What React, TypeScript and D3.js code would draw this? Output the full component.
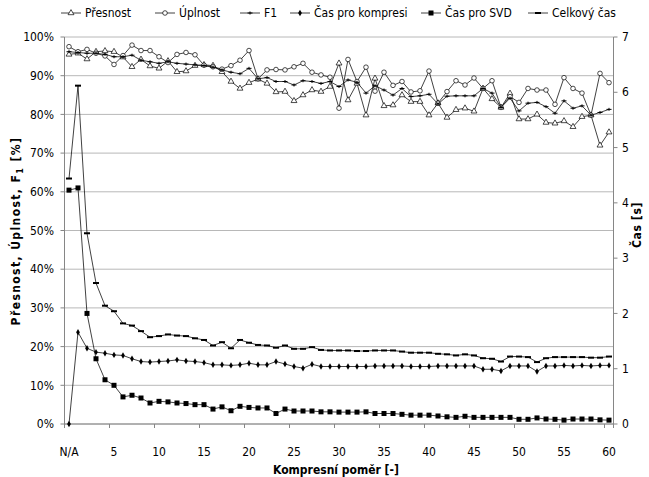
import React from 'react';
import * as d3 from 'd3';

// kategorie osy X: N/A a pak kompresní poměr 1..60
const kategorie = ['N/A', ...d3.range(1, 61).map(String)];
const popiskyX = ['N/A', '5', '10', '15', '20', '25', '30', '35', '40', '45', '50', '55', '60'];
const procentaTicks = [0, 10, 20, 30, 40, 50, 60, 70, 80, 90, 100];
const casTicks = [0, 1, 2, 3, 4, 5, 6, 7];

// levá osa [%]
const presnost = [
  95.5, 95.8, 94.3, 96.2, 96.4, 96.2, 94.8, 92.3, 94.2, 92.5, 91.9, 93.8, 91.0, 91.2, 92.6, 92.8,
  92.6, 91.0, 88.5, 86.7, 88.2, 89.1, 88.0, 85.8, 85.9, 83.5, 85.0, 86.3, 85.9, 87.2, 93.2, 83.7,
  88.0, 79.8, 89.3, 82.2, 82.4, 85.0, 83.3, 83.3, 79.8, 82.9, 79.2, 81.2, 81.6, 80.8, 86.7, 84.0,
  81.8, 85.4, 78.8, 78.8, 80.0, 77.9, 77.7, 78.3, 76.8, 79.4, 79.8, 72.0, 75.4,
];
const uplnost = [
  97.5, 96.2, 96.8, 95.8, 95.1, 92.9, 95.2, 97.9, 96.5, 96.5, 94.9, 93.4, 95.5, 96.0, 95.4, 92.7,
  92.3, 91.7, 92.6, 94.0, 96.5, 89.2, 91.5, 91.6, 91.5, 92.3, 93.2, 90.9, 90.2, 89.6, 81.6, 94.2,
  88.5, 92.2, 86.0, 90.9, 87.5, 88.5, 85.8, 86.1, 91.2, 82.9, 85.9, 88.7, 87.6, 89.4, 86.7, 88.7,
  81.8, 84.6, 83.1, 86.7, 86.3, 86.3, 82.6, 89.5, 86.7, 85.5, 79.8, 90.6, 88.2,
];
const f1 = [
  96.2, 96.0, 95.8, 95.8, 95.5, 94.9, 94.9, 95.3, 94.0, 93.6, 93.2, 93.6, 93.2, 93.0, 92.8, 92.6,
  92.2, 91.5, 90.9, 90.5, 91.9, 89.2, 89.5, 88.5, 88.5, 87.6, 88.7, 88.5, 88.0, 88.5, 87.2, 88.9,
  88.3, 85.5, 87.4, 86.3, 85.0, 86.7, 84.6, 84.8, 85.2, 82.7, 84.7, 84.8, 84.8, 84.8, 86.7, 85.5,
  81.8, 84.2, 80.9, 82.9, 83.1, 82.0, 80.3, 83.5, 81.6, 82.2, 79.8, 80.5, 81.3,
];

// pravá osa [s]
const casKomprese = [
  0, 1.66, 1.37, 1.3, 1.28, 1.25, 1.24, 1.18, 1.13, 1.12, 1.13, 1.14, 1.16, 1.14, 1.13, 1.11,
  1.07, 1.07, 1.06, 1.07, 1.1, 1.07, 1.07, 1.13, 1.085, 1.04, 1.01, 1.08, 1.04, 1.04, 1.04, 1.04,
  1.04, 1.04, 1.05, 1.05, 1.05, 1.05, 1.04, 1.04, 1.04, 1.05, 1.05, 1.05, 1.05, 1.05, 0.99, 0.99,
  0.96, 1.05, 1.05, 1.05, 0.95, 1.05, 1.05, 1.06, 1.05, 1.06, 1.05, 1.06, 1.06,
];
const casSvd = [
  4.23, 4.27, 2.0, 1.18, 0.8, 0.7, 0.49, 0.52, 0.47, 0.38, 0.41, 0.4, 0.38, 0.37, 0.35, 0.35,
  0.27, 0.31, 0.24, 0.32, 0.3, 0.29, 0.29, 0.19, 0.27, 0.235, 0.235, 0.235, 0.22, 0.22, 0.215, 0.215,
  0.215, 0.22, 0.19, 0.19, 0.19, 0.175, 0.16, 0.16, 0.16, 0.145, 0.13, 0.12, 0.14, 0.12, 0.12, 0.12,
  0.12, 0.12, 0.085, 0.085, 0.11, 0.09, 0.085, 0.07, 0.09, 0.09, 0.09, 0.075, 0.07,
];
const casCelkovy = [
  4.44, 6.12, 3.45, 2.55, 2.14, 2.04, 1.82, 1.78, 1.68, 1.57, 1.59, 1.62, 1.6, 1.59, 1.55, 1.52,
  1.42, 1.48, 1.37, 1.52, 1.47, 1.43, 1.42, 1.38, 1.42, 1.36, 1.36, 1.39, 1.34, 1.33, 1.33, 1.33,
  1.32, 1.32, 1.33, 1.33, 1.33, 1.31, 1.29, 1.29, 1.29, 1.27, 1.26, 1.24, 1.26, 1.24, 1.19, 1.18,
  1.13, 1.22, 1.22, 1.21, 1.12, 1.19, 1.21, 1.21, 1.21, 1.21, 1.2, 1.2, 1.22,
];

const FONT = "'Liberation Sans Narrow', 'DejaVu Sans Condensed', 'Liberation Sans', sans-serif";
const m = { left: 64.5, right: 613.5, top: 37, bottom: 424 };

type Znacka = 'tri' | 'kruh' | 'plus' | 'kosoctverec' | 'ctverec' | 'carka';

const Marker = ({ typ, x, y }: { typ: Znacka; x: number; y: number }) => {
  if (typ === 'tri')
    return <path d={d3.symbol(d3.symbolTriangle, 15)()!} transform={`translate(${x},${y})`} fill="#fff" stroke="#000" strokeWidth={0.7} />;
  if (typ === 'kruh') return <circle cx={x} cy={y} r={2.3} fill="#fff" stroke="#000" strokeWidth={0.7} />;
  if (typ === 'plus')
    return <path d={`M${x - 2.5},${y}H${x + 2.5}M${x},${y - 1.5}V${y + 1.5}`} stroke="#000" strokeWidth={1} />;
  if (typ === 'kosoctverec')
    return <path d={d3.symbol(d3.symbolDiamond, 12)()!} transform={`translate(${x},${y})`} fill="#000" />;
  if (typ === 'ctverec') return <rect x={x - 2.5} y={y - 2.5} width={5} height={5} fill="#000" />;
  return <rect x={x - 3} y={y - 1} width={6} height={2} fill="#000" />;
};

export default function App() {
  const x = d3.scaleBand().domain(kategorie).range([m.left, m.right]);
  const cx = (i: number) => x(kategorie[i])! + x.bandwidth() / 2;
  const yL = d3.scaleLinear().domain([0, 100]).range([m.bottom, m.top]);
  const yR = d3.scaleLinear().domain([0, 7]).range([m.bottom, m.top]);

  const serie: { nazev: string; data: number[]; y: d3.ScaleLinear<number, number>; znacka: Znacka }[] = [
    { nazev: 'Přesnost', data: presnost, y: yL, znacka: 'tri' },
    { nazev: 'Úplnost', data: uplnost, y: yL, znacka: 'kruh' },
    { nazev: 'F1', data: f1, y: yL, znacka: 'plus' },
    { nazev: 'Čas pro kompresi', data: casKomprese, y: yR, znacka: 'kosoctverec' },
    { nazev: 'Čas pro SVD', data: casSvd, y: yR, znacka: 'ctverec' },
    { nazev: 'Celkový čas', data: casCelkovy, y: yR, znacka: 'carka' },
  ];

  // legenda - x začátku čáry
  const legendaX = [61, 155, 240, 290, 421, 528];

  const tickyX = kategorie.map((_, i) => i).filter((i) => i % 5 === 0).map((i) => x(kategorie[i])!);
  tickyX.push(m.right);

  return (
    <svg width={649} height={477} style={{ position: 'absolute', left: 0, top: 0, background: '#fff' }} fontFamily={FONT}>
      <rect width={649} height={477} fill="#fff" />
      {/* mřížka */}
      {procentaTicks.map((t) => (
        <line key={t} x1={m.left} x2={m.right} y1={yL(t)} y2={yL(t)} stroke="#b8b8b8" strokeWidth={1} />
      ))}
      {/* osy */}
      <line x1={m.left} x2={m.left} y1={m.top} y2={m.bottom} stroke="#868686" />
      <line x1={m.right} x2={m.right} y1={m.top} y2={m.bottom} stroke="#868686" />
      <line x1={m.left} x2={m.right} y1={m.bottom} y2={m.bottom} stroke="#868686" />
      {procentaTicks.map((t) => (
        <g key={t}>
          <line x1={m.left - 4} x2={m.left} y1={yL(t)} y2={yL(t)} stroke="#868686" />
          <text x={54} y={yL(t)} dy="0.35em" textAnchor="end" fontSize={12}>{t}%</text>
        </g>
      ))}
      {casTicks.map((t) => (
        <g key={t}>
          <line x1={m.right} x2={m.right + 4} y1={yR(t)} y2={yR(t)} stroke="#868686" />
          <text x={622} y={yR(t)} dy="0.35em" fontSize={12}>{t}</text>
        </g>
      ))}
      {tickyX.map((tx, i) => (
        <line key={i} x1={tx} x2={tx} y1={m.bottom} y2={m.bottom + 4} stroke="#868686" />
      ))}
      {popiskyX.map((p) => (
        <text key={p} x={cx(kategorie.indexOf(p))} y={452} dy="0.35em" textAnchor="middle" fontSize={12}>{p}</text>
      ))}
      {/* titulky os */}
      <text x={336} y={470} dy="0.35em" textAnchor="middle" fontSize={12} fontWeight="bold">Kompresní poměr [-]</text>
      <text transform="translate(16,231) rotate(-90)" textAnchor="middle" dy="0.35em" fontSize={12} fontWeight="bold" letterSpacing={1.4}>
        Přesnost, Úplnost, F<tspan fontSize={9} dy="3">1</tspan><tspan dy="-3"> [%]</tspan>
      </text>
      <text transform="translate(637,225) rotate(-90)" textAnchor="middle" dy="0.35em" fontSize={12} fontWeight="bold" letterSpacing={0.6}>Čas [s]</text>
      {/* série */}
      {serie.map((s) => {
        const line = d3.line<number>().x((_, i) => cx(i)).y((d) => s.y(d));
        return (
          <g key={s.nazev}>
            <path d={line(s.data)!} fill="none" stroke="#111" strokeWidth={0.8} />
            {s.data.map((d, i) => (
              <Marker key={i} typ={s.znacka} x={cx(i)} y={s.y(d)} />
            ))}
          </g>
        );
      })}
      {/* legenda */}
      {serie.map((s, i) => (
        <g key={s.nazev}>
          <line x1={legendaX[i]} x2={legendaX[i] + 20} y1={13} y2={13} stroke="#111" strokeWidth={0.8} />
          <Marker typ={s.znacka} x={legendaX[i] + 10} y={13} />
          <text x={legendaX[i] + 24} y={13} dy="0.35em" fontSize={12}>{s.nazev}</text>
        </g>
      ))}
    </svg>
  );
}
